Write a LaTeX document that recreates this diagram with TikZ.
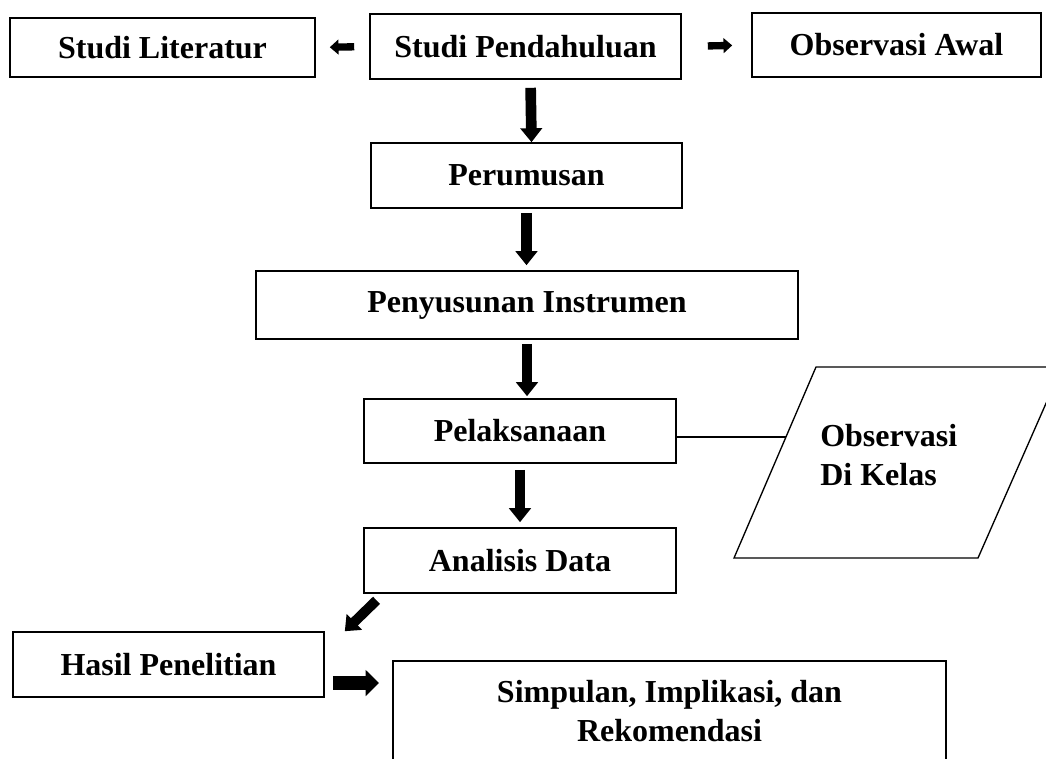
\documentclass[tikz,border=0pt]{standalone}
\usepackage{fontspec}
\setmainfont{Liberation Serif}
\usetikzlibrary{arrows.meta}

\tikzset{
  box/.style={draw, line width=1.2pt, inner sep=0pt, font=\bfseries\fontsize{24}{29}\selectfont},
  txt/.style={inner sep=0pt, font=\bfseries\fontsize{24}{29}\selectfont},
  bigarrow/.style={line width=8pt, -{Triangle[width=16pt,length=10.5pt]}},
  smallarrow/.style={line width=5.5pt, -{Triangle[width=11pt,length=6.5pt]}},
  midarrow/.style={line width=10pt, -{Triangle[width=19pt,length=10pt]}},
  diagarrow/.style={line width=7.5pt, -{Triangle[width=16pt,length=10pt]}}
}

\begin{document}
\begin{tikzpicture}[x=0.75pt, y=-0.75pt]
    \useasboundingbox (0,0) rectangle (1046,758);

    % top row
    \node[box, minimum width=228.75pt, minimum height=44.25pt] (lit)  at (162.5,47.5) {Studi Literatur};
    \node[box, minimum width=233.25pt, minimum height=48.75pt] (pend) at (525.5,46.5) {Studi Pendahuluan};
    \node[box, minimum width=216.75pt, minimum height=48pt]    (awal) at (896.5,45)   {Observasi Awal};

    % main column
    \node[box, minimum width=233.25pt, minimum height=48.75pt] (rumus)    at (526.5,175.5) {Perumusan};
    \node[box, minimum width=406.5pt,  minimum height=51pt]    (susun)    at (527,305)     {Penyusunan Instrumen};
    \node[box, minimum width=234pt,    minimum height=48pt]    (laksana)  at (520,431)     {Pelaksanaan};
    \node[box, minimum width=234pt,    minimum height=48.75pt] (analisis) at (520,560.5)   {Analisis Data};
    \node[box, minimum width=233.25pt, minimum height=48.75pt] (hasil)    at (168.5,664.5) {Hasil Penelitian};

    % last box (runs past the page)
    \draw[line width=1.2pt] (393,661) rectangle (946,800);
    \node[txt, align=center] (simpul) at (669.5,711) {Simpulan, Implikasi, dan\\Rekomendasi};
    \coordinate (simpw) at (393,683);

    % parallelogram
    \coordinate (P1) at (816,367);
    \coordinate (P2) at (1062,367);
    \coordinate (P3) at (978,558);
    \coordinate (P4) at (734,558);
    \draw[line width=1pt] (P1) -- (P2) -- (P3) -- (P4) -- cycle;
    \node[txt, align=left, anchor=west] (obs) at (820,455) {Observasi\\Di Kelas};
    \coordinate (obsin) at (786,437);

    % arrows
    \draw[smallarrow, shorten <=11.25pt, shorten >=10.5pt] (pend.west) -- (lit.east);
    \draw[smallarrow, shorten <=19.5pt, shorten >=14.25pt] (pend.east) -- (awal.west);
    \draw[bigarrow, shorten <=6pt] ([xshift=3.75pt]pend.south) -- ([xshift=3.75pt]rumus.north);
    \draw[bigarrow, shorten <=3pt, shorten >=3.75pt] (rumus.south) -- (rumus.south |- susun.north);
    \draw[bigarrow, shorten <=3pt, shorten >=1.5pt] (susun.south) -- (susun.south |- laksana.north);
    \draw[bigarrow, shorten <=4.5pt, shorten >=3.75pt] (laksana.south) -- (analisis.north);
    \draw[diagarrow, shorten <=7pt] ([xshift=15pt]analisis.south west) -- ([xshift=15pt]hasil.north east);
    \draw[midarrow, shorten <=6pt, shorten >=10.5pt] (hasil.east |- simpw) -- (simpw);

    % link to observation
    \draw[line width=1pt] (laksana.east |- obsin) -- (obsin);
\end{tikzpicture}
\end{document}
